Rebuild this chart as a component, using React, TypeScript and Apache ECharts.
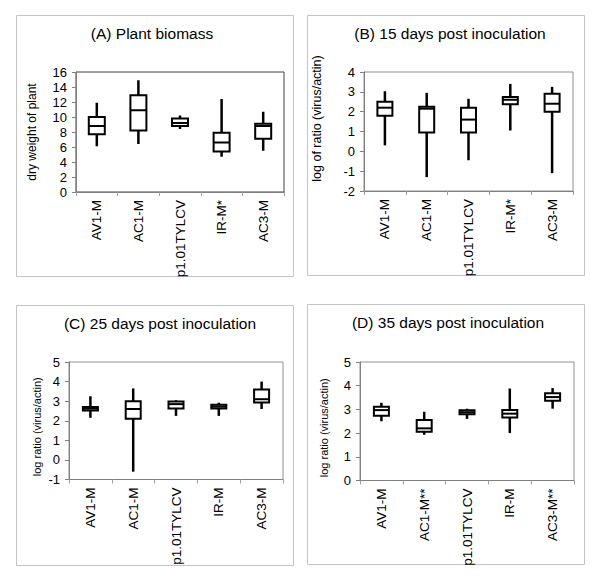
import React, { useEffect, useRef } from "react";
import * as echarts from "echarts";

// ---- Data (min, Q1, median, Q3, max) ----
const categoriesA = ["AV1-M", "AC1-M", "p1.01TYLCV", "IR-M*", "AC3-M"];
const categoriesB = ["AV1-M", "AC1-M", "p1.01TYLCV", "IR-M*", "AC3-M"];
const categoriesC = ["AV1-M", "AC1-M", "p1.01TYLCV", "IR-M", "AC3-M"];
const categoriesD = ["AV1-M", "AC1-M**", "p1.01TYLCV", "IR-M", "AC3-M**"];

const boxesA = [
  [6.1, 7.7, 8.8, 10.0, 11.9],
  [6.4, 8.2, 10.9, 12.9, 14.9],
  [8.4, 8.8, 9.2, 9.8, 10.2],
  [4.7, 5.4, 6.6, 7.9, 12.4],
  [5.5, 7.1, 8.8, 9.1, 10.7],
];
const boxesB = [
  [0.3, 1.8, 2.2, 2.5, 3.03],
  [-1.3, 0.95, 2.15, 2.25, 2.95],
  [-0.45, 0.95, 1.6, 2.2, 2.65],
  [1.05, 2.37, 2.6, 2.74, 3.4],
  [-1.1, 2.0, 2.4, 2.9, 3.25],
];
const boxesC = [
  [2.15, 2.52, 2.62, 2.7, 3.25],
  [-0.6, 2.1, 2.6, 3.0, 3.65],
  [2.25, 2.62, 2.85, 2.98, 3.05],
  [2.25, 2.62, 2.72, 2.82, 2.92],
  [2.6, 2.93, 3.1, 3.6, 4.0],
];
const boxesD = [
  [2.5, 2.73, 2.97, 3.11, 3.28],
  [1.93, 2.06, 2.2, 2.55, 2.9],
  [2.6, 2.8, 2.88, 2.96, 3.03],
  [2.0, 2.66, 2.82, 2.97, 3.88],
  [3.03, 3.36, 3.52, 3.68, 3.9],
];

const titles = [
  "(A) Plant biomass",
  "(B) 15 days post inoculation",
  "(C) 25 days post inoculation",
  "(D) 35 days post inoculation",
];
const yNames = [
  "dry weight of plant",
  "log of ratio (virus/actin)",
  "log ratio (virus/actin)",
  "log ratio (virus/actin)",
];

const FONT = "'Liberation Sans', Arial, sans-serif";

function makeRenderItem(halfW: number) {
  return (params: any, api: any) => {
    const x = api.value(0);
    const [cx, yMin] = api.coord([x, api.value(1)]);
    const yQ1 = api.coord([x, api.value(2)])[1];
    const yMed = api.coord([x, api.value(3)])[1];
    const yQ3 = api.coord([x, api.value(4)])[1];
    const yMax = api.coord([x, api.value(5)])[1];
    return {
      type: "group",
      children: [
        { type: "line", shape: { x1: cx, y1: yMin, x2: cx, y2: yQ1 }, style: { stroke: "#000", lineWidth: 2.5 } },
        { type: "line", shape: { x1: cx, y1: yQ3, x2: cx, y2: yMax }, style: { stroke: "#000", lineWidth: 2.5 } },
        {
          type: "rect",
          shape: { x: cx - halfW, y: yQ3, width: halfW * 2, height: Math.max(yQ1 - yQ3, 1) },
          style: { fill: "#fff", stroke: "#000", lineWidth: 2 },
        },
        { type: "line", shape: { x1: cx - halfW, y1: yMed, x2: cx + halfW, y2: yMed }, style: { stroke: "#000", lineWidth: 2 } },
      ],
    };
  };
}

export default function App() {
  const ref = useRef<HTMLDivElement>(null);
  useEffect(() => {
    if (!ref.current) return;
    const chart = echarts.init(ref.current, null, { renderer: "svg" });

    const grids = [
      { left: 76, top: 72, width: 208, height: 120, borderColor: "#404040" },
      { left: 364, top: 72, width: 209, height: 119, borderColor: "#909090" },
      { left: 69, top: 362, width: 214, height: 117.5, borderColor: "#909090" },
      { left: 360, top: 362, width: 214, height: 118.5, borderColor: "#909090" },
    ];
    const yRanges = [
      { min: 0, max: 16, interval: 2 },
      { min: -2, max: 4, interval: 1 },
      { min: -1, max: 5, interval: 1 },
      { min: 0, max: 5, interval: 1 },
    ];
    const cats = [categoriesA, categoriesB, categoriesC, categoriesD];
    const boxes = [boxesA, boxesB, boxesC, boxesD];
    const nameGaps = [38, 41, 27, 31];
    const nameSizes = [12, 12.5, 11, 11];
    const namePads = [
      [0, 0, 0, 0],
      [0, 0, 0, 26],
      [0, 12, 0, 0],
      [0, 13, 0, 0],
    ];
    const titlePos = [
      { x: 152, y: 25 },
      { x: 450, y: 25 },
      { x: 160, y: 315 },
      { x: 448, y: 314 },
    ];
    const halfWs = [8, 7.5, 7.5, 7.5];
    const outer = [
      { x: 16, y: 15, w: 277, h: 261 },
      { x: 307, y: 15, w: 277, h: 260 },
      { x: 16, y: 305, w: 277, h: 260 },
      { x: 307, y: 304, w: 277, h: 260 },
    ];

    const option: any = {
      animation: false,
      backgroundColor: "#fff",
      textStyle: { fontFamily: FONT },
      title: titles.map((t, i) => ({
        text: t,
        left: titlePos[i].x,
        top: titlePos[i].y,
        textAlign: "center",
        padding: 0,
        textStyle: { fontFamily: FONT, fontSize: 15.5, fontWeight: "normal", color: "#000" },
      })),
      graphic: outer.map((o) => ({
        type: "rect",
        shape: { x: o.x + 0.5, y: o.y + 0.5, width: o.w, height: o.h },
        style: { fill: "none", stroke: "#c4c4c4", lineWidth: 1 },
        silent: true,
      })),
      grid: grids.map((g) => ({
        left: g.left,
        top: g.top,
        width: g.width,
        height: g.height,
        show: true,
        borderColor: g.borderColor,
        borderWidth: 1,
        backgroundColor: "transparent",
      })),
      xAxis: cats.map((c, i) => ({
        type: "category",
        gridIndex: i,
        data: c,
        axisLine: { onZero: false, lineStyle: { color: "#808080", width: 1 } },
        axisTick: { show: true, length: 4, lineStyle: { color: "#a0a0a0" } },
        axisLabel: {
          rotate: 90,
          interval: 0,
          margin: 8,
          color: "#000",
          fontSize: 13.5,
          fontFamily: FONT,
        },
        splitLine: { show: false },
      })),
      yAxis: yRanges.map((r, i) => ({
        type: "value",
        gridIndex: i,
        min: r.min,
        max: r.max,
        interval: r.interval,
        name: yNames[i],
        nameLocation: "middle",
        nameGap: nameGaps[i],
        nameTextStyle: { color: "#000", fontSize: nameSizes[i], fontFamily: FONT, padding: namePads[i] },
        axisLine: { show: true, onZero: false, lineStyle: { color: "#808080", width: 1 } },
        axisTick: { show: true, length: 4, lineStyle: { color: "#808080" } },
        axisLabel: { color: "#000", fontSize: 13, margin: 9, fontFamily: FONT },
        splitLine: { show: false },
      })),
      series: boxes.map((b, i) => ({
        type: "custom",
        xAxisIndex: i,
        yAxisIndex: i,
        renderItem: makeRenderItem(halfWs[i]),
        encode: { x: 0, y: [1, 2, 3, 4, 5] },
        data: b.map((v, j) => [j, ...v]),
        silent: true,
      })),
    };
    chart.setOption(option);
    return () => chart.dispose();
  }, []);

  return (
    <div
      ref={ref}
      style={{ position: "fixed", left: 0, top: 0, width: 600, height: 581, background: "#fff" }}
    />
  );
}
